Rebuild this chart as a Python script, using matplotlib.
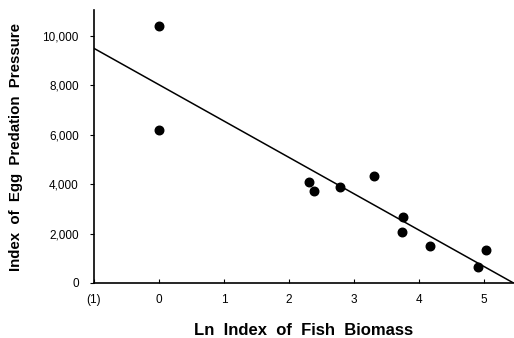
import matplotlib.pyplot as plt

plt.rcParams['font.family'] = ['Liberation Sans', 'DejaVu Sans']

# data
fish_biomass = [0, 0, 2.31, 2.39, 2.78, 3.30, 3.76, 3.74, 4.17, 4.90, 5.03]
egg_predation = [10400, 6200, 4080, 3740, 3900, 4330, 2660, 2080, 1500, 640, 1340]

# regression line end points
line_x = [-1, 5.45]
line_y = [9500, 0]

x_ticks = [-1, 0, 1, 2, 3, 4, 5]
x_tick_labels = ['(1)', '0', '1', '2', '3', '4', '5']
y_ticks = [0, 2000, 4000, 6000, 8000, 10000]
y_tick_labels = ['0', '2,000', '4,000', '6,000', '8,000', '10,000']

fig = plt.figure(figsize=(5.14, 3.38), dpi=100)
ax = fig.add_axes([0.183, 0.163, 0.817, 0.807])

ax.plot(line_x, line_y, color='black', linewidth=1.1)
ax.scatter(fish_biomass, egg_predation, s=38, color='black', zorder=3)

ax.set_xlim(-1, 5.46)
ax.set_ylim(0, 11050)
ax.set_xticks(x_ticks)
ax.set_xticklabels(x_tick_labels, fontsize=8.5)
ax.set_yticks(y_ticks)
ax.set_yticklabels(y_tick_labels, fontsize=8.5)
ax.tick_params(axis='x', direction='in', length=3, pad=8)
ax.tick_params(axis='y', direction='out', length=3, pad=8)

ax.spines['top'].set_visible(False)
ax.spines['right'].set_visible(False)
ax.spines['left'].set_linewidth(1.2)
ax.spines['bottom'].set_linewidth(1.2)

ax.set_xlabel('Ln  Index  of  Fish  Biomass', fontsize=12, fontweight='bold', labelpad=12)
ax.set_ylabel('Index  of  Egg  Predation  Pressure', fontsize=10.8, fontweight='bold', labelpad=14)

plt.savefig('out.png', dpi=100)
